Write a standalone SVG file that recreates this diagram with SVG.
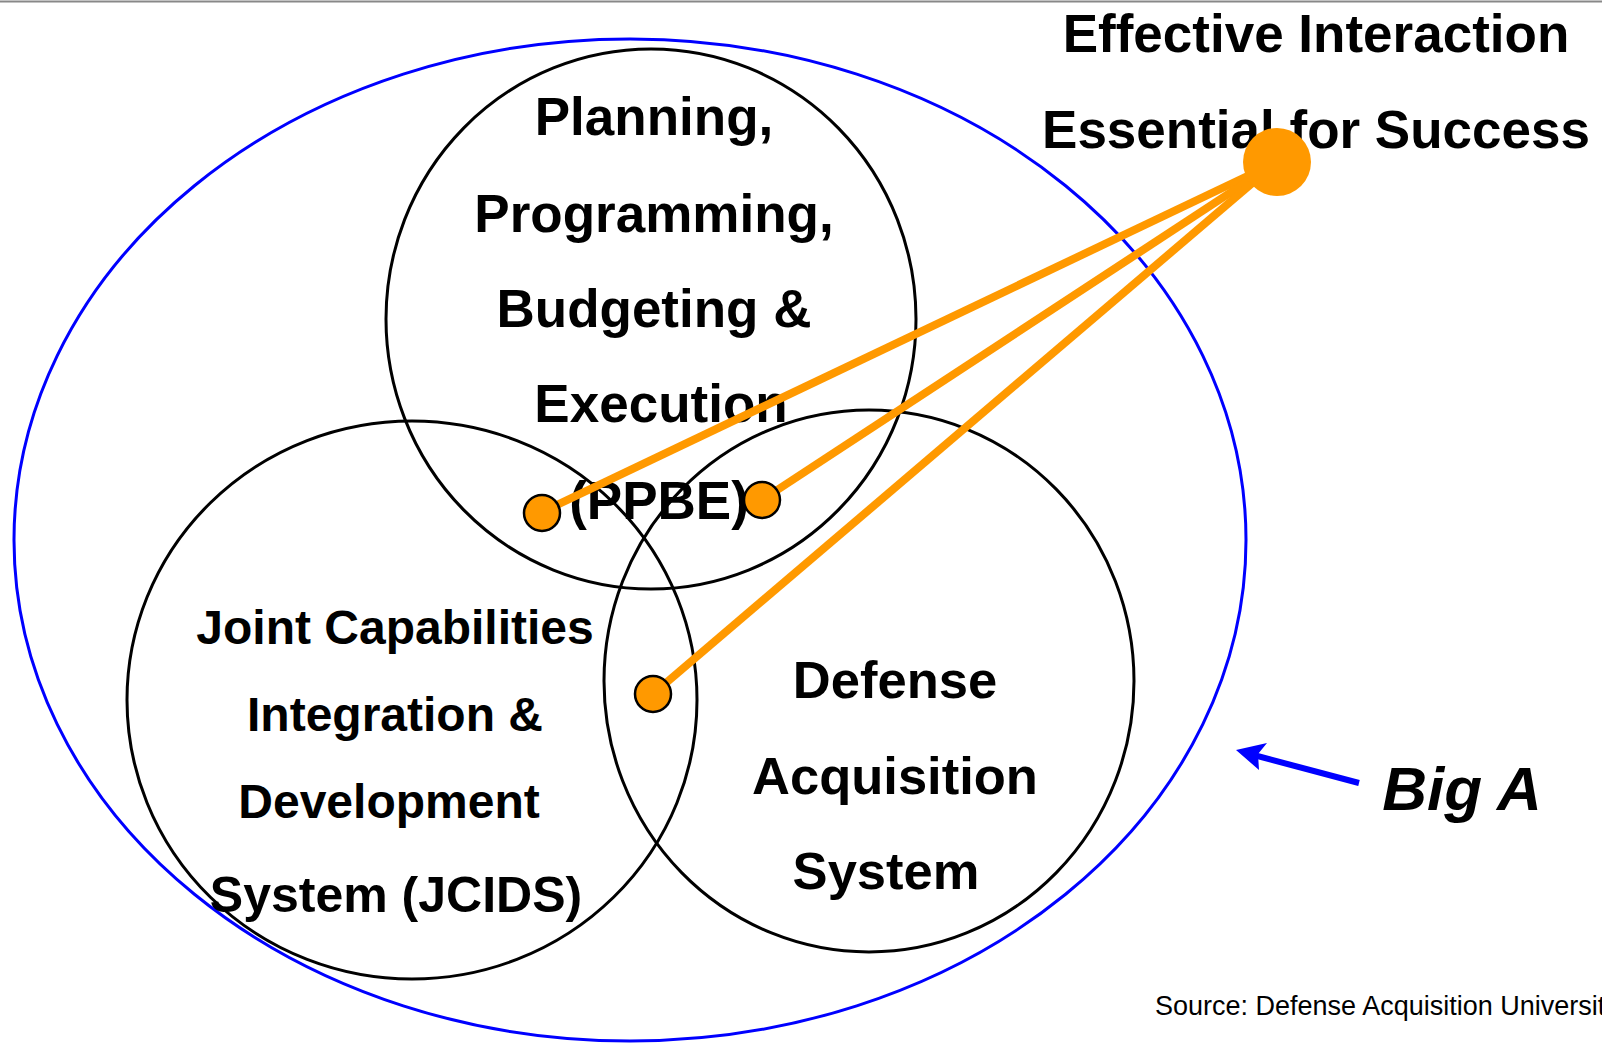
<svg xmlns="http://www.w3.org/2000/svg" width="1602" height="1045" viewBox="0 0 1602 1045">
<style>
.ring{fill:none;stroke:#000;stroke-width:3}
.big{fill:none;stroke:#0000ff;stroke-width:3}
.t{font-family:"Liberation Sans",Arial,sans-serif;font-weight:bold;fill:#000;text-anchor:middle}
.link{stroke:#ff9900;stroke-width:8;stroke-linecap:butt}
.dot{fill:#ff9900;stroke:#000;stroke-width:2.5}
</style>
<rect width="1602" height="1045" fill="#fff"/>
<line x1="0" y1="1.5" x2="1602" y2="1.5" stroke="#888" stroke-width="2"/>
<g id="big-a">
<ellipse class="big" cx="630" cy="540" rx="616" ry="501"/>
</g>
<g id="ppbe">
<ellipse class="ring" cx="651" cy="319" rx="265" ry="270"/>
<text class="t" font-size="53"><tspan x="654" y="135">Planning,</tspan><tspan x="654" y="232">Programming,</tspan><tspan x="654" y="327">Budgeting &amp;</tspan><tspan x="661" y="422">Execution</tspan><tspan x="659" y="519">(PPBE)</tspan></text>
</g>
<g id="jcids">
<ellipse class="ring" cx="412" cy="700" rx="285" ry="279"/>
<text class="t" font-size="48"><tspan x="395" y="644">Joint Capabilities</tspan><tspan x="395" y="731">Integration &amp;</tspan><tspan x="389" y="818">Development</tspan><tspan x="396" y="912" font-size="50">System (JCIDS)</tspan></text>
</g>
<g id="das">
<ellipse class="ring" cx="869" cy="681" rx="265" ry="271"/>
<text class="t" font-size="52.5"><tspan x="895" y="698">Defense</tspan><tspan x="895" y="794">Acquisition</tspan><tspan x="886" y="889">System</tspan></text>
</g>
<g id="title">
<text class="t" font-size="53"><tspan x="1316" y="52">Effective Interaction</tspan><tspan x="1316" y="148">Essential for Success</tspan></text>
</g>
<g id="connectors">
<line class="link" x1="1277" y1="162" x2="542" y2="512"/>
<line class="link" x1="1277" y1="162" x2="762" y2="500"/>
<line class="link" x1="1277" y1="162" x2="653" y2="694"/>
<line x1="1359" y1="783" x2="1250" y2="754" stroke="#0000ff" stroke-width="6"/>
<polygon points="1236,750 1267,743 1258,754 1259,770" fill="#0000ff"/>
</g>
<g id="hub"><circle cx="1277" cy="162" r="34" fill="#ff9900"/></g>
<g id="dots">
<circle class="dot" cx="542" cy="513" r="18"/>
<circle class="dot" cx="762" cy="500" r="18"/>
<circle class="dot" cx="653" cy="694" r="18"/>
</g>
<g id="label-big-a">
<text class="t" font-size="62" font-style="italic" x="1462" y="810">Big A</text>
</g>
<g id="source">
<text font-family="Liberation Sans,Arial,sans-serif" font-size="27" x="1155" y="1015">Source: Defense Acquisition Universit</text>
</g>
</svg>
